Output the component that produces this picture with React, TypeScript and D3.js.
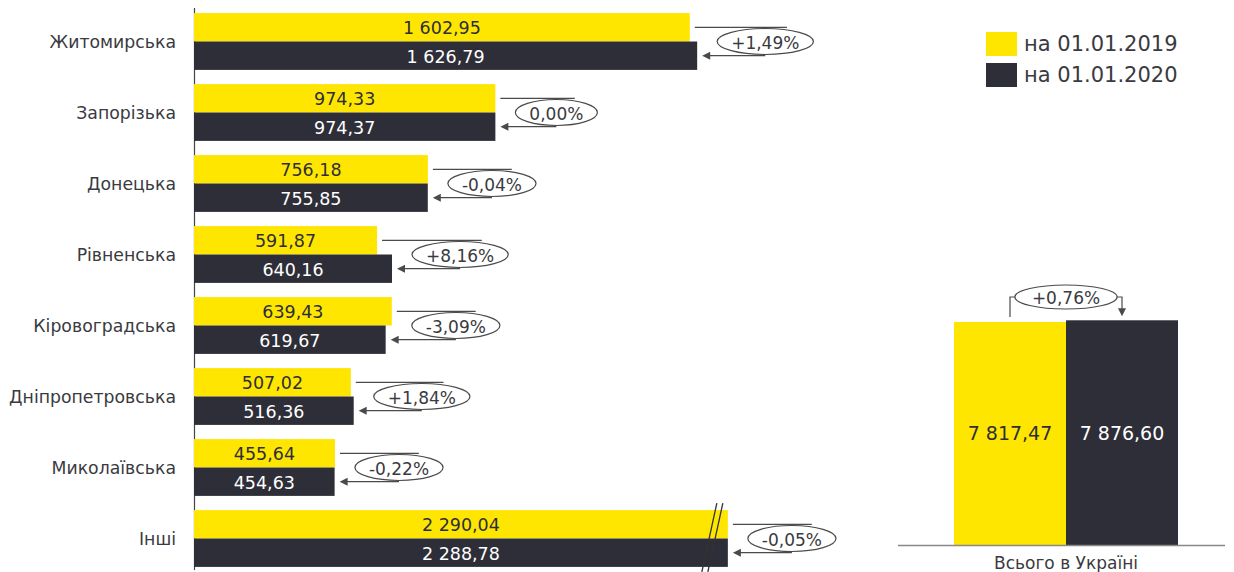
import React from 'react';
import * as d3 from 'd3';

const categories = ['Житомирська', 'Запорізька', 'Донецька', 'Рівненська', 'Кіровоградська', 'Дніпропетровська', 'Миколаївська', 'Інші'];
const values2019 = [1602.95, 974.33, 756.18, 591.87, 639.43, 507.02, 455.64, 2290.04];
const values2020 = [1626.79, 974.37, 755.85, 640.16, 619.67, 516.36, 454.63, 2288.78];
const changeLabels = ['+1,49%', '0,00%', '-0,04%', '+8,16%', '-3,09%', '+1,84%', '-0,22%', '-0,05%'];
const seriesLabels = ['на 01.01.2019', 'на 01.01.2020'];
const totalCategory = 'Всього в Україні';
const totalValues = [7817.47, 7876.6];
const totalChange = '+0,76%';
const breakValue = 1726; // axis break cap for the truncated bar

const YELLOW = '#FFE600';
const DARK = '#2E2E38';
const TEXT = '#3a3a40';
const LINE = '#4a4a4a';
const FONT = '"DejaVu Sans", Verdana, sans-serif';

const locale = d3.formatLocale({ decimal: ',', thousands: ' ', grouping: [3], currency: ['', ''] });
const fmt = locale.format(',.2f');

let ctx: CanvasRenderingContext2D | null = null;
function textWidth(t: string, size: number) {
  if (typeof document === 'undefined') return t.length * size * 0.6;
  if (!ctx) ctx = document.createElement('canvas').getContext('2d');
  if (!ctx) return t.length * size * 0.6;
  ctx.font = `${size}px ${FONT}`;
  return ctx.measureText(t).width;
}

export default function App() {
  const W = 1234, H = 572;
  const x = d3.scaleLinear().domain([0, 2000]).range([194, 194 + 2000 * 0.3093]);
  const y = d3.scaleBand<string>().domain(categories).range([6, 574]).paddingInner(0.2).paddingOuter(0.1);
  const bw = y.bandwidth();
  const half = bw / 2;

  const xt = d3.scaleBand<string>().domain(seriesLabels).range([954, 1178]).padding(0);
  const yt = d3.scaleLinear().domain([0, 8000]).range([545, 545 - 8000 * 0.02853]);

  const arrowLeft = (tx: number, ty: number) => `M${tx},${ty} L${tx + 8},${ty - 4} L${tx + 8},${ty + 4} Z`;
  const arrowDown = (tx: number, ty: number) => `M${tx},${ty} L${tx - 4},${ty - 8} L${tx + 4},${ty - 8} Z`;
  const CF = 17;

  return (
    <svg width={W} height={H} style={{ position: 'absolute', left: 0, top: 0, background: '#fff' }} fontFamily={FONT}>
      {/* axis line */}
      <line x1={194.5} x2={194.5} y1={8} y2={570} stroke="#444" strokeWidth={1.2} />
      {categories.map((c, i) => {
        const y0 = y(c)!;
        const cap = (v: number) => Math.min(v, breakValue);
        const xa = x(cap(values2019[i]));
        const xb = x(cap(values2020[i]));
        const ymA = y0 + half / 2;
        const ymB = y0 + half + half / 2;
        const maxEnd = Math.max(xa, xb);
        const tw = textWidth(changeLabels[i], CF);
        const rx = tw / 2 + 14;
        const cx = maxEnd + 20 + rx;
        const cy = y0 + half;
        const broken = values2019[i] > breakValue || values2020[i] > breakValue;
        return (
          <g key={c}>
            <text x={176} y={cy} textAnchor="end" dominantBaseline="central" fontSize={17.3} fill={TEXT}>{c}</text>
            <rect x={x(0)} y={y0} width={xa - x(0)} height={half} fill={YELLOW} />
            <rect x={x(0)} y={y0 + half} width={xb - x(0)} height={half} fill={DARK} />
            <text x={(x(0) + xa) / 2} y={ymA + 1} textAnchor="middle" dominantBaseline="central" fontSize={17.5} fill={DARK}>{fmt(values2019[i])}</text>
            <text x={(x(0) + xb) / 2} y={ymB + 1} textAnchor="middle" dominantBaseline="central" fontSize={17.5} fill="#fff">{fmt(values2020[i])}</text>
            {broken && (
              <g stroke="#333" strokeWidth={1.3}>
                <line x1={maxEnd - 11} y1={y0 - 7} x2={maxEnd - 26} y2={y0 + bw + 5} />
                <line x1={maxEnd - 5} y1={y0 - 7} x2={maxEnd - 20} y2={y0 + bw + 5} />
              </g>
            )}
            <line x1={xa + 5} x2={cx + rx * 0.45} y1={ymA} y2={ymA} stroke={LINE} strokeWidth={1.2} />
            <line x1={xb + 12} x2={cx} y1={ymB} y2={ymB} stroke={LINE} strokeWidth={1.2} />
            <path d={arrowLeft(xb + 5, ymB)} fill={LINE} />
            <ellipse cx={cx} cy={cy} rx={rx} ry={13} fill="#fff" stroke={LINE} strokeWidth={1.2} />
            <text x={cx} y={cy + 1} textAnchor="middle" dominantBaseline="central" fontSize={CF} fill={TEXT}>{changeLabels[i]}</text>
          </g>
        );
      })}

      {/* legend */}
      {seriesLabels.map((s, i) => (
        <g key={s}>
          <rect x={986} y={32 + i * 31} width={31} height={24} fill={i === 0 ? YELLOW : DARK} />
          <text x={1024} y={44 + i * 31} dominantBaseline="central" fontSize={21} fill={TEXT}>{s}</text>
        </g>
      ))}

      {/* totals */}
      {seriesLabels.map((s, i) => {
        const bx = xt(s)!;
        const top = yt(totalValues[i]);
        return (
          <g key={'t' + s}>
            <rect x={bx} y={top} width={xt.bandwidth()} height={yt(0) - top} fill={i === 0 ? YELLOW : DARK} />
            <text x={bx + xt.bandwidth() / 2} y={433} textAnchor="middle" dominantBaseline="central" fontSize={19} fill={i === 0 ? DARK : '#fff'}>{fmt(totalValues[i])}</text>
          </g>
        );
      })}
      {(() => {
        const ax = xt(seriesLabels[0])! + xt.bandwidth() / 2;
        const bx = xt(seriesLabels[1])! + xt.bandwidth() / 2;
        const ly = 297;
        const topA = yt(totalValues[0]) - 5;
        const topB = yt(totalValues[1]) - 4;
        const tw = textWidth(totalChange, CF);
        const rx = tw / 2 + 17;
        return (
          <g>
            <path d={`M${ax},${topA} L${ax},${ly} L${bx},${ly} L${bx},${topB - 7}`} fill="none" stroke={LINE} strokeWidth={1.2} />
            <path d={arrowDown(bx, topB)} fill={LINE} />
            <ellipse cx={(ax + bx) / 2} cy={ly} rx={rx} ry={12} fill="#fff" stroke={LINE} strokeWidth={1.2} />
            <text x={(ax + bx) / 2} y={ly + 1} textAnchor="middle" dominantBaseline="central" fontSize={CF} fill={TEXT}>{totalChange}</text>
          </g>
        );
      })()}
      <line x1={898} x2={1225} y1={545.5} y2={545.5} stroke="#888" strokeWidth={1.5} />
      <text x={1066} y={563} textAnchor="middle" dominantBaseline="central" fontSize={17} fill={TEXT}>{totalCategory}</text>
    </svg>
  );
}
